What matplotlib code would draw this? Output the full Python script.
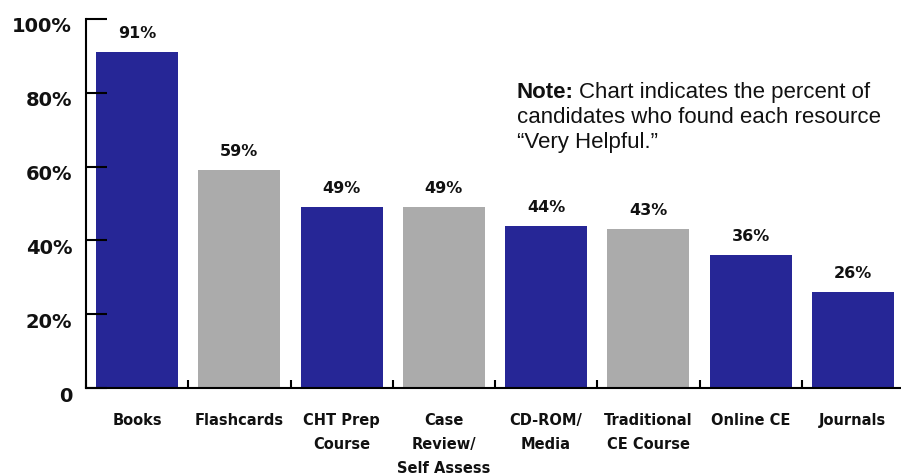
import numpy as np
import matplotlib
matplotlib.use("Agg")
from matplotlib import pyplot as plt
from matplotlib.transforms import ScaledTranslation

# данные с картинки
categories = ["Books", "Flashcards", "CHT Prep\nCourse", "Case\nReview/\nSelf Assess",
              "CD-ROM/\nMedia", "Traditional\nCE Course", "Online CE", "Journals"]
values = [91, 59, 49, 49, 44, 43, 36, 26]
value_labels = ["91%", "59%", "49%", "49%", "44%", "43%", "36%", "26%"]
y_ticks = [0, 20, 40, 60, 80, 100]
y_tick_labels = ["0", "20%", "40%", "60%", "80%", "100%"]
note_lines = ["Chart indicates the percent of",
              "candidates who found each resource",
              "\u201cVery Helpful.\u201d"]

blue = "#262696"
gray = "#ababab"
colors = [blue, gray, blue, gray, blue, gray, blue, blue]

fig = plt.figure(figsize=(9.01, 4.76), dpi=100)
ax = fig.add_axes([86/901, 1 - 388/476, (904 - 86)/901, (388 - 19)/476])

x = np.arange(len(categories))
bars = ax.bar(x, values, width=0.8, color=colors, zorder=1)

# подписи значений над столбиками
for xi, v, lab in zip(x, values, value_labels):
    ax.annotate(lab, (xi, v), xytext=(0, 8), textcoords="offset points",
                ha="center", va="bottom", fontsize=11.5, fontweight="bold",
                color="#111111")

ax.set_xlim(-0.5, len(categories) - 0.5)
ax.set_ylim(0, 100)

ax.set_yticks(y_ticks)
ax.set_yticklabels(y_tick_labels, fontsize=14, fontweight="bold", color="#111111")
ax.tick_params(axis="y", direction="in", length=15, width=1.5, pad=10)
for lab in ax.get_yticklabels():
    lab.set_transform(lab.get_transform() + ScaledTranslation(0, -6/100, fig.dpi_scale_trans))

ax.set_xticks(x)
ax.set_xticklabels(categories, fontsize=10.5, fontweight="bold", color="#111111",
                   linespacing=1.75, va="top")
ax.tick_params(axis="x", which="major", length=0, pad=18)
ax.set_xticks(np.arange(len(categories) + 1) - 0.5, minor=True)
ax.tick_params(axis="x", which="minor", direction="in", length=6, width=1.5)

for s in ["top", "right"]:
    ax.spines[s].set_visible(False)
ax.spines["left"].set_linewidth(1.5)
ax.spines["bottom"].set_linewidth(1.5)

# примечание справа сверху
note_kw = dict(fontsize=16, family="Liberation Sans", color="#111111", va="baseline")
t_bold = fig.text(517/901, 1 - 98/476, "Note:", fontweight="bold", **note_kw)
fig.canvas.draw()
bb = t_bold.get_window_extent()
fig.text((bb.x1 + 5)/901, 1 - 98/476, note_lines[0], **note_kw)
for i, line in enumerate(note_lines[1:]):
    fig.text(517/901, 1 - (123 + 25*i)/476, line, **note_kw)

fig.savefig("out.png", dpi=100)
